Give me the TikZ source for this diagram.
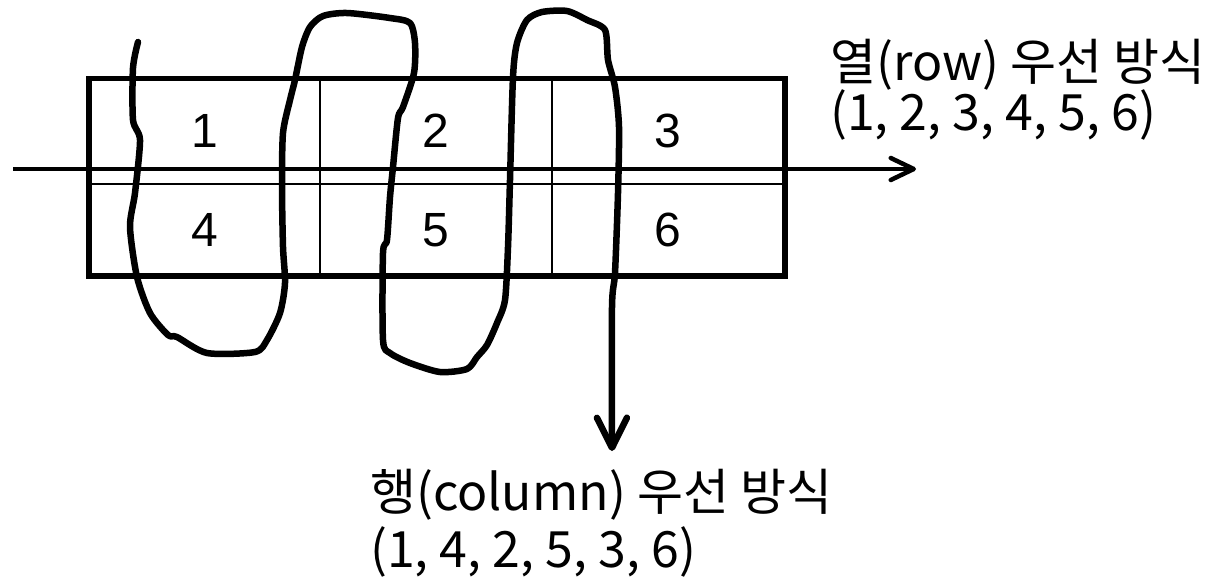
\documentclass[tikz,border=0pt]{standalone}
\usepackage{fontspec}
\newfontfamily\krfont{Noto Sans CJK KR}
\newfontfamily\digfont{Liberation Sans}
\usetikzlibrary{arrows.meta}
\tikzset{
  thinline/.style={line width=2.7pt},
  boxline/.style={line width=5.2pt},
  cellnum/.style={font=\digfont\fontsize{48}{48}\selectfont, inner sep=0pt},
  lbl/.style={font=\krfont\fontsize{50}{50}\selectfont, anchor=base west, inner sep=0pt},
  scan/.style={line width=6.5pt, line cap=round, line join=round},
  rowarrow/.style={line width=4.5pt, -{Straight Barb[length=23pt,width=22pt,round]}},
  colarrow/.style={-{Straight Barb[length=30pt,width=30pt,round]}}
}
\begin{document}
\begin{tikzpicture}[x=1pt,y=-1pt]
\useasboundingbox[fill=white] (0,0) rectangle (1217,579);
% grid
\draw[thinline] (89,184) -- (785,184);
\draw[thinline] (320,78.5) -- (320,276);
\draw[thinline] (552,78.5) -- (552,276);
\draw[boxline] (89,78.5) rectangle (785,276);
% numbers
\node[cellnum] (c1) at (204.5,131) {1};
\node[cellnum] (c2) at (436,131) {2};
\node[cellnum] (c3) at (668,131) {3};
\node[cellnum] (c4) at (204.5,230) {4};
\node[cellnum] (c5) at (436,230) {5};
\node[cellnum] (c6) at (668,230) {6};
% row arrow
\coordinate (rowstart) at (13,169);
\coordinate (rowend) at (916,169);
\draw[rowarrow] (rowstart) -- (rowend);
% column scan curve
\coordinate (scanstart) at (138,42);
\coordinate (scanend) at (612,451);
\draw[scan, colarrow] plot[smooth, tension=0.45] coordinates {
 (scanstart) (133,68) (133,120) (140,140) (135,193) (130,227) (137,277) (150,313)
 (168,335) (177,337) (207,353) (255,352) (267,340) (280,313) (285,283) (283,247)
 (282,187) (283,133) (290,100) (295,80) (302,47) (310,27) (323,16) (347,13)
 (390,18) (410,23) (415,43) (414,73) (403,107) (398,118) (393,167) (390,197)
 (387,240) (383,253) (383,340) (390,353) (410,363) (440,372) (467,369) (477,357)
 (487,345) (497,323) (505,300) (508,247) (510,180) (513,77) (517,43) (527,20)
 (542,12) (567,11) (587,20) (605,30) (608,60) (615,87) (619,127) (618,193)
 (615,273) (612,307) (scanend)};
% labels
\node[lbl] (rowlbl) at (830,80) {열(row) 우선 방식};
\node[lbl] (rowseq) at (830,130) {(1, 2, 3, 4, 5, 6)};
\node[lbl] (collbl) at (370,510) {행(column) 우선 방식};
\node[lbl] (colseq) at (370,567) {(1, 4, 2, 5, 3, 6)};
\end{tikzpicture}
\end{document}
